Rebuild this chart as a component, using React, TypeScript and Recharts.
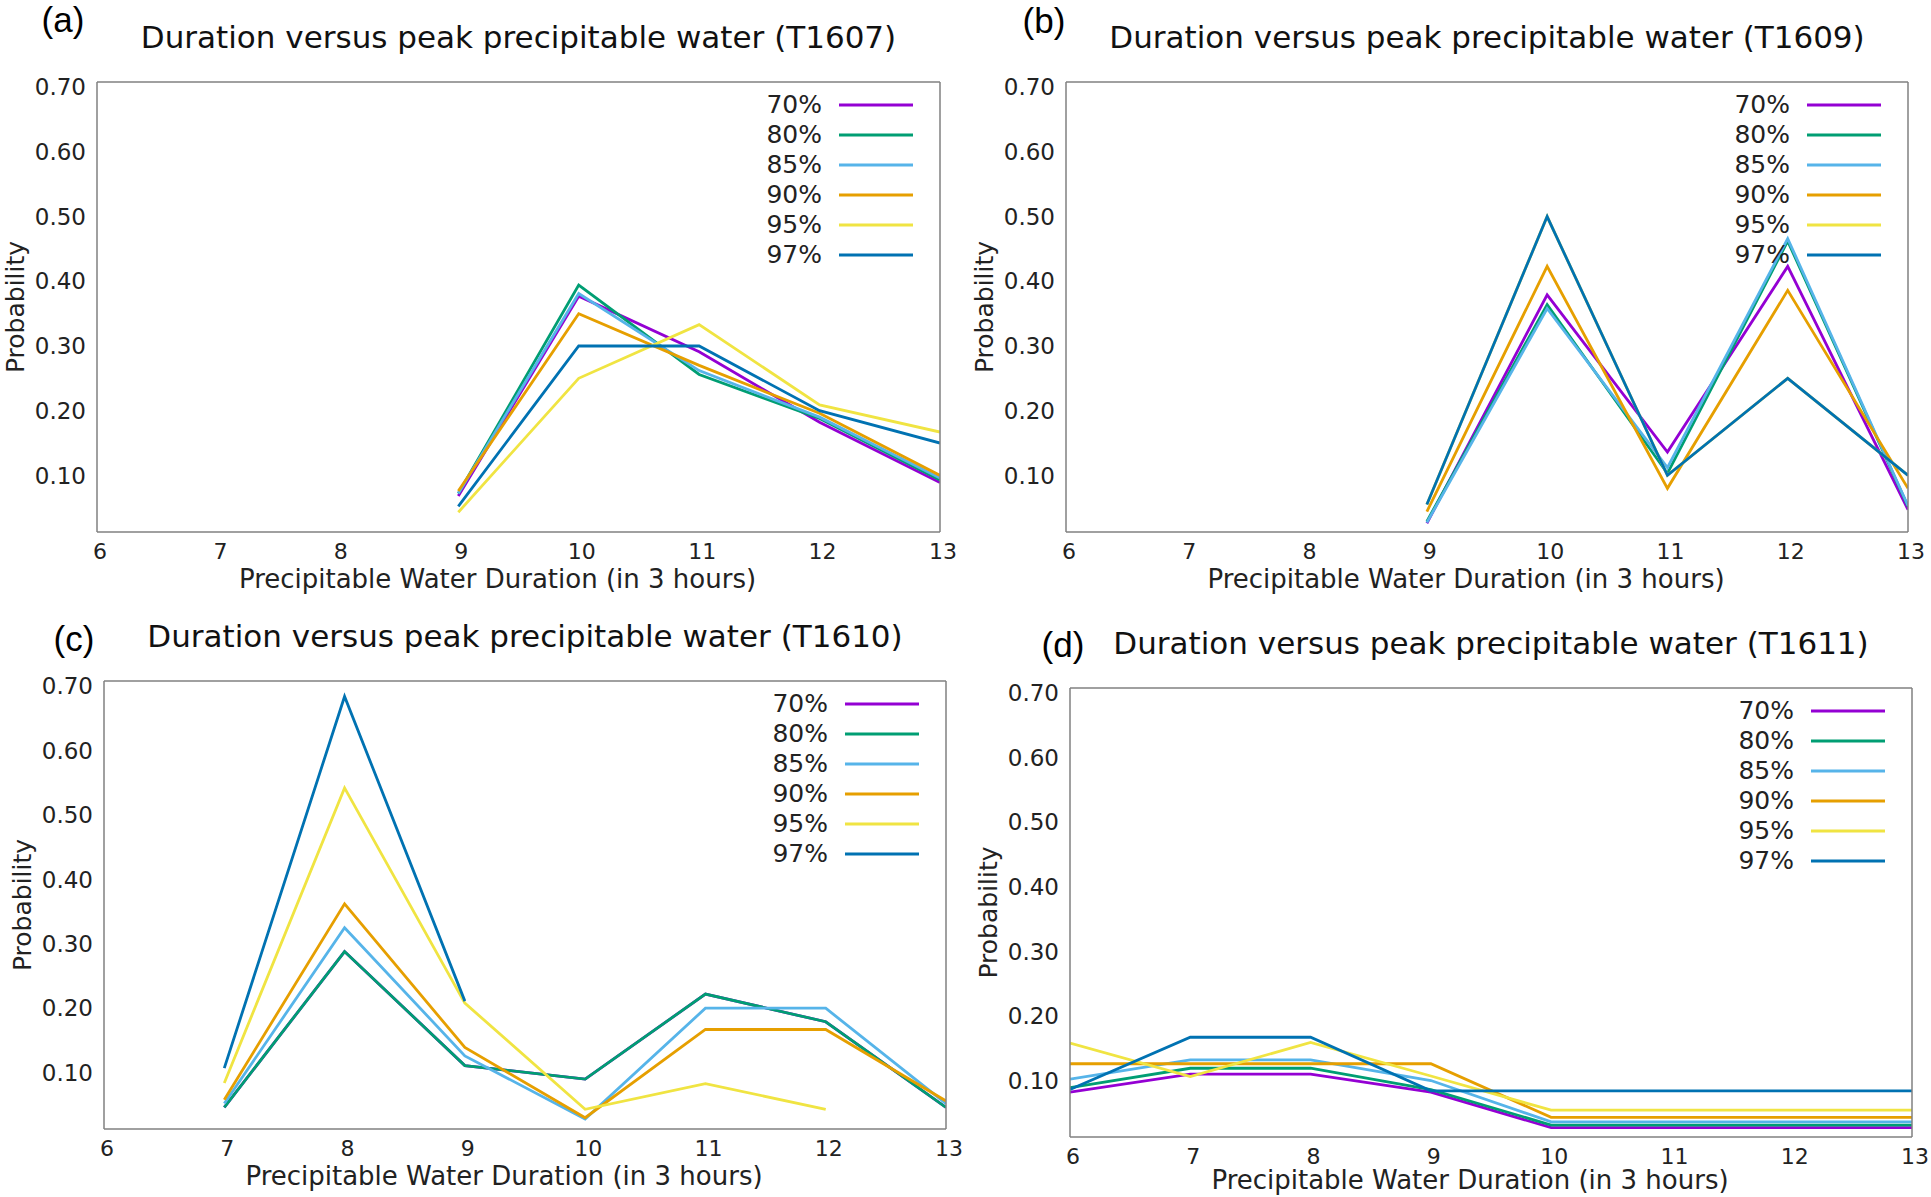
import React from 'react';
import { LineChart, Line, XAxis, YAxis, Legend } from 'recharts';

// durations on the x axis (in 3 hours)
const durations = [6, 7, 8, 9, 10, 11, 12, 13];
const yTicks = [0.1, 0.2, 0.3, 0.4, 0.5, 0.6, 0.7];
const levels = ['70%', '80%', '85%', '90%', '95%', '97%'];
const colors = ['#9400d3', '#009e73', '#56b4e9', '#e69f00', '#f0e442', '#0072b2'];

// T1607 probabilities, one value per duration (null = not plotted)
const t1607_70 = [null, null, null, 0.068, 0.377, 0.291, 0.182, 0.089];
const t1607_80 = [null, null, null, 0.072, 0.394, 0.256, 0.188, 0.093];
const t1607_85 = [null, null, null, 0.072, 0.381, 0.262, 0.19, 0.096];
const t1607_90 = [null, null, null, 0.076, 0.35, 0.27, 0.196, 0.1];
const t1607_95 = [null, null, null, 0.043, 0.25, 0.333, 0.209, 0.167];
const t1607_97 = [null, null, null, 0.052, 0.3, 0.3, 0.2, 0.15];

// T1609
const t1609_70 = [null, null, null, 0.026, 0.379, 0.136, 0.423, 0.047];
const t1609_80 = [null, null, null, 0.029, 0.364, 0.103, 0.462, 0.052];
const t1609_85 = [null, null, null, 0.027, 0.358, 0.112, 0.466, 0.053];
const t1609_90 = [null, null, null, 0.044, 0.423, 0.08, 0.386, 0.08];
const t1609_95 = [null, null, null, 0.055, 0.5, 0.1, 0.25, 0.1];
const t1609_97 = [null, null, null, 0.055, 0.5, 0.1, 0.25, 0.1];

// T1610
const t1610_70 = [null, 0.046, 0.288, 0.111, 0.09, 0.222, 0.179, 0.046];
const t1610_80 = [null, 0.046, 0.288, 0.111, 0.09, 0.222, 0.179, 0.046];
const t1610_85 = [null, 0.052, 0.325, 0.126, 0.028, 0.2, 0.2, 0.052];
const t1610_90 = [null, 0.058, 0.362, 0.139, 0.03, 0.167, 0.167, 0.056];
const t1610_95 = [null, 0.084, 0.542, 0.208, 0.043, 0.083, 0.043, null];
const t1610_97 = [null, 0.107, 0.684, 0.211, null, null, null, null];

// T1611
const t1611_70 = [0.082, 0.11, 0.11, 0.082, 0.027, 0.027, 0.027, 0.027];
const t1611_80 = [0.089, 0.119, 0.119, 0.086, 0.031, 0.031, 0.031, 0.031];
const t1611_85 = [0.102, 0.132, 0.132, 0.1, 0.036, 0.036, 0.036, 0.036];
const t1611_90 = [0.126, 0.126, 0.126, 0.126, 0.043, 0.043, 0.043, 0.043];
const t1611_95 = [0.158, 0.106, 0.159, 0.107, 0.054, 0.054, 0.054, 0.054];
const t1611_97 = [0.086, 0.167, 0.167, 0.084, 0.084, 0.084, 0.084, 0.084];

const FONT = '"DejaVu Sans", sans-serif';
const BORDER = '#808080';
const TICK = '#555';

const XLabel = (props: any) => {
  const { x, y, width } = props.viewBox;
  return (
    <text x={x + width / 2 - 21} y={y + props.dy} textAnchor="middle" fontFamily={FONT} fontSize={26} fill="#222">
      Precipitable Water Duration (in 3 hours)
    </text>
  );
};

const YLabel = (props: any) => {
  const { x, y, width, height } = props.viewBox;
  const cx = x + width - 82;
  const cy = y + height / 2;
  return (
    <text x={cx} y={cy} textAnchor="middle" dominantBaseline="central" transform={`rotate(-90 ${cx} ${cy})`}
      fontFamily={FONT} fontSize={25} fill="#222">
      Probability
    </text>
  );
};

const renderLegend = (props: any) => (
  <div>
    {(props.payload || []).map((p: any) => (
      <div key={p.value} style={{ display: 'flex', alignItems: 'center', justifyContent: 'flex-end', height: 30 }}>
        <span style={{ fontFamily: FONT, fontSize: 25, color: '#222', lineHeight: '30px' }}>{p.value}</span>
        <svg width={74} height={30} style={{ marginLeft: 17, display: 'block' }}>
          <line x1={0} x2={74} y1={15} y2={15} stroke={p.color} strokeWidth={2.8} />
        </svg>
      </div>
    ))}
  </div>
);

function Panel({ tag, tagX, tagTop, title, series, L, T, R, B, labelDy }: any) {
  const ML = 100, MT = 90, MR = 25, MB = 70;
  const YW = 80, XH = 60;
  const w = R - L + ML + MR;
  const h = B - T + MT + MB;
  const rows = durations.map((d, i) => {
    const r: any = { d };
    series.forEach((s: any[], k: number) => { r['s' + k] = s[i]; });
    return r;
  });
  const axisCommon = { type: 'number' as const, allowDataOverflow: true, interval: 0 as const };

  return (
    <>
      <div style={{ position: 'absolute', left: tagX - 45, top: tagTop, width: 90, textAlign: 'center',
        fontFamily: '"Liberation Sans", sans-serif', fontSize: 35, color: '#000' }}>{tag}</div>
      <div style={{ position: 'absolute', left: L - 100, width: R - L + 200, top: T - 45 - 18, textAlign: 'center',
        fontFamily: FONT, fontSize: 31, lineHeight: '36px', color: '#111', whiteSpace: 'nowrap' }}>{title}</div>
      <div style={{ position: 'absolute', left: L - ML, top: T - MT }}>
        <LineChart width={w} height={h} data={rows} margin={{ top: MT, left: ML - YW, right: MR, bottom: MB - XH }}>
          <XAxis xAxisId="x" dataKey="d" {...axisCommon} domain={[6, 13]} ticks={durations} height={XH}
            stroke={BORDER} axisLine={{ stroke: BORDER, strokeWidth: 1.5 }} tickLine={false} tickSize={6} tickMargin={5}
            tick={{ fill: '#222', fontSize: 22, fontFamily: FONT, dx: 3 }} label={<XLabel dy={labelDy} />} />
          <XAxis xAxisId="xb" dataKey="d" {...axisCommon} domain={[6, 13]} ticks={durations} orientation="bottom" mirror
            axisLine={false} tick={false} tickLine={{ stroke: TICK, strokeWidth: 1.2 }} tickSize={8} />
          <XAxis xAxisId="xt" dataKey="d" {...axisCommon} domain={[6, 13]} ticks={durations} orientation="top" mirror
            axisLine={{ stroke: BORDER, strokeWidth: 1.5 }} tick={false} tickLine={{ stroke: TICK, strokeWidth: 1.2 }} tickSize={8} />
          <YAxis yAxisId="y" {...axisCommon} domain={[0.0125, 0.708]} ticks={yTicks} width={YW}
            stroke={BORDER} axisLine={{ stroke: BORDER, strokeWidth: 1.5 }} tickLine={false} tickSize={6} tickMargin={5}
            tickFormatter={(v: number) => v.toFixed(2)}
            tick={{ fill: '#222', fontSize: 23, fontFamily: FONT }} label={<YLabel />} />
          <YAxis yAxisId="yl" {...axisCommon} domain={[0.0125, 0.708]} ticks={yTicks} orientation="left" mirror
            axisLine={false} tick={false} tickLine={{ stroke: TICK, strokeWidth: 1.2 }} tickSize={8} />
          <YAxis yAxisId="yr" {...axisCommon} domain={[0.0125, 0.708]} ticks={yTicks} orientation="right" mirror
            axisLine={{ stroke: BORDER, strokeWidth: 1.5 }} tick={false} tickLine={{ stroke: TICK, strokeWidth: 1.2 }} tickSize={8} />
          <Legend layout="vertical" align="center" verticalAlign="middle" content={renderLegend}
            wrapperStyle={{ top: MT + 8, right: MR + 27, left: 'auto', width: 'auto', height: 'auto' }} />
          {levels.map((lv, k) => (
            <Line key={lv} xAxisId="x" yAxisId="y" dataKey={'s' + k} name={lv} stroke={colors[k]} strokeWidth={2.8}
              dot={false} activeDot={false} connectNulls={false} isAnimationActive={false} />
          ))}
        </LineChart>
      </div>
    </>
  );
}

export default function App() {
  return (
    <div style={{ position: 'absolute', left: 0, top: 0, width: 1931, height: 1197, overflow: 'hidden', background: '#fff' }}>
      <Panel tag="(a)" tagX={63} tagTop={0} title="Duration versus peak precipitable water (T1607)"
        L={97} T={82} R={940} B={532} labelDy={56}
        series={[t1607_70, t1607_80, t1607_85, t1607_90, t1607_95, t1607_97]} />
      <Panel tag="(b)" tagX={1044} tagTop={1} title="Duration versus peak precipitable water (T1609)"
        L={1066} T={82} R={1908} B={532} labelDy={56}
        series={[t1609_70, t1609_80, t1609_85, t1609_90, t1609_95, t1609_97]} />
      <Panel tag="(c)" tagX={74} tagTop={619} title="Duration versus peak precipitable water (T1610)"
        L={104} T={681} R={946} B={1129} labelDy={56}
        series={[t1610_70, t1610_80, t1610_85, t1610_90, t1610_95, t1610_97]} />
      <Panel tag="(d)" tagX={1063} tagTop={625} title="Duration versus peak precipitable water (T1611)"
        L={1070} T={688} R={1912} B={1137} labelDy={52}
        series={[t1611_70, t1611_80, t1611_85, t1611_90, t1611_95, t1611_97]} />
    </div>
  );
}
